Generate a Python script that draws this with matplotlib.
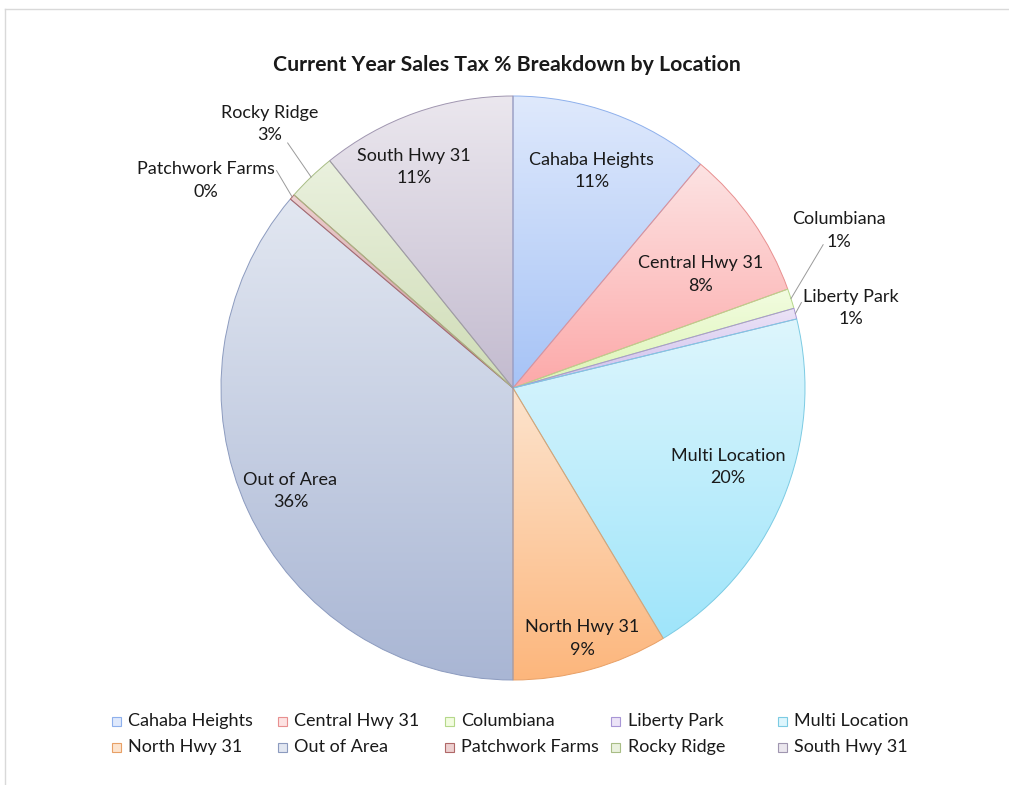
import numpy as np
import matplotlib
matplotlib.use('Agg')
import matplotlib.pyplot as plt
from matplotlib.colors import LinearSegmentedColormap
from matplotlib.patches import Rectangle
from matplotlib.lines import Line2D

plt.rcParams['font.family'] = ['Lato', 'DejaVu Sans']

# data (share of sales tax, %)
locations = ['Cahaba Heights', 'Central Hwy 31', 'Columbiana', 'Liberty Park',
             'Multi Location', 'North Hwy 31', 'Out of Area', 'Patchwork Farms',
             'Rocky Ridge', 'South Hwy 31']
shares = [11.1, 8.4, 1.1, 0.6, 20.2, 8.6, 36.2, 0.3, 2.7, 10.8]

# gradient top colour, bottom colour, edge colour
top_colors = ['#dfe9fc', '#fde3e3', '#f2fce0', '#ece4f7', '#def6fd',
              '#fde4ce', '#e2e7f1', '#edd0d0', '#eaf1de', '#ebe7ee']
bottom_colors = ['#a6c3f6', '#fca9a9', '#dcf5b5', '#cdbdec', '#9fe5fa',
                 '#fcb67c', '#a9b6d4', '#c89393', '#cfdcb6', '#c3bbcf']
edge_colors = ['#8eb0ec', '#e89090', '#b5d88a', '#a896d6', '#7ccbe3',
               '#e8a066', '#8c9bbf', '#b06868', '#a8bd85', '#a096b0']

# label placement: (clockwise angle from top in deg or None=mid angle, radius)
label_pos = [(None, 0.79), (58.8, 0.75), (64.2, 1.24), (76.7, 1.19), (110.2, 0.785),
             (None, 0.89), (None, 0.84), (304.0, 1.27), (317.3, 1.23), (335.8, 0.83)]
# leader line end (angle, radius) for outside labels
leader_end = {2: (65.2, 1.17), 3: (73.5, 1.03), 7: (312.6, 1.10), 8: (317.4, 1.14)}

W, H = 1009, 785
fig = plt.figure(figsize=(W / 100, H / 100), dpi=100)
cx, cy, R = 513, 388, 292
half = 300
ax = fig.add_axes([(cx - half) / W, (H - cy - half) / H, 2 * half / W, 2 * half / H])

wedges, _ = ax.pie(shares, startangle=90, counterclock=False, radius=1,
                   wedgeprops=dict(linewidth=0.7))

for i, w in enumerate(wedges):
    w.set_facecolor('none')
    w.set_edgecolor(edge_colors[i])
    w.set_zorder(3)
    ext = w.get_path().get_extents()
    cmap = LinearSegmentedColormap.from_list('g%d' % i, [top_colors[i], bottom_colors[i]])
    grad = np.linspace(0, 1, 256).reshape(-1, 1)
    im = ax.imshow(grad, cmap=cmap, extent=[ext.x0, ext.x1, ext.y0, ext.y1],
                   origin='upper', aspect='auto', zorder=2, interpolation='bilinear')
    im.set_clip_path(w)

lim = half / R
ax.set_xlim(-lim, lim)
ax.set_ylim(-lim, lim)
ax.set_aspect('equal')
ax.axis('off')

total = sum(shares)
cum = np.cumsum([0] + shares)
for i, name in enumerate(locations):
    mid = (cum[i] + cum[i + 1]) / 2 / total * 360
    ang, r = label_pos[i]
    if ang is None:
        ang = mid
    t = np.radians(ang)
    x, y = r * np.sin(t), r * np.cos(t)
    ax.text(x, y, '%s\n%d%%' % (name, round(shares[i])), ha='center', va='center',
            fontsize=13, color='#1a1a1a', linespacing=1.5, zorder=5)
    if i in leader_end:
        ea, er = leader_end[i]
        m = np.radians(mid)
        e = np.radians(ea)
        ax.plot([np.sin(m), er * np.sin(e)], [np.cos(m), er * np.cos(e)],
                color='#9a9a9a', lw=0.7, zorder=4, clip_on=False)

fig.text(507 / W, 1 - 65 / H, 'Current Year Sales Tax % Breakdown by Location',
         ha='center', va='center', fontsize=15.3, fontweight='bold', color='#1a1a1a')

# legend, row-major in 5 columns
for i, name in enumerate(locations):
    row, col = divmod(i, 5)
    px = 116 + col * 166.5
    py = 721 + row * 26
    fig.patches.append(Rectangle(((px - 4.5) / W, 1 - (py + 4.5) / H), 9 / W, 9 / H,
                                 transform=fig.transFigure, facecolor=top_colors[i],
                                 edgecolor=edge_colors[i], lw=0.8))
    fig.text((px + 12) / W, 1 - py / H, name, ha='left', va='center',
             fontsize=13, color='#1a1a1a')

# chart area border (top and left visible)
fig.add_artist(Line2D([5 / W, 1], [1 - 9 / H, 1 - 9 / H], transform=fig.transFigure,
                      color='#d9d9d9', lw=1))
fig.add_artist(Line2D([5 / W, 5 / W], [0, 1 - 9 / H], transform=fig.transFigure,
                      color='#d9d9d9', lw=1))

fig.savefig('out.png', dpi=100, facecolor='white')
